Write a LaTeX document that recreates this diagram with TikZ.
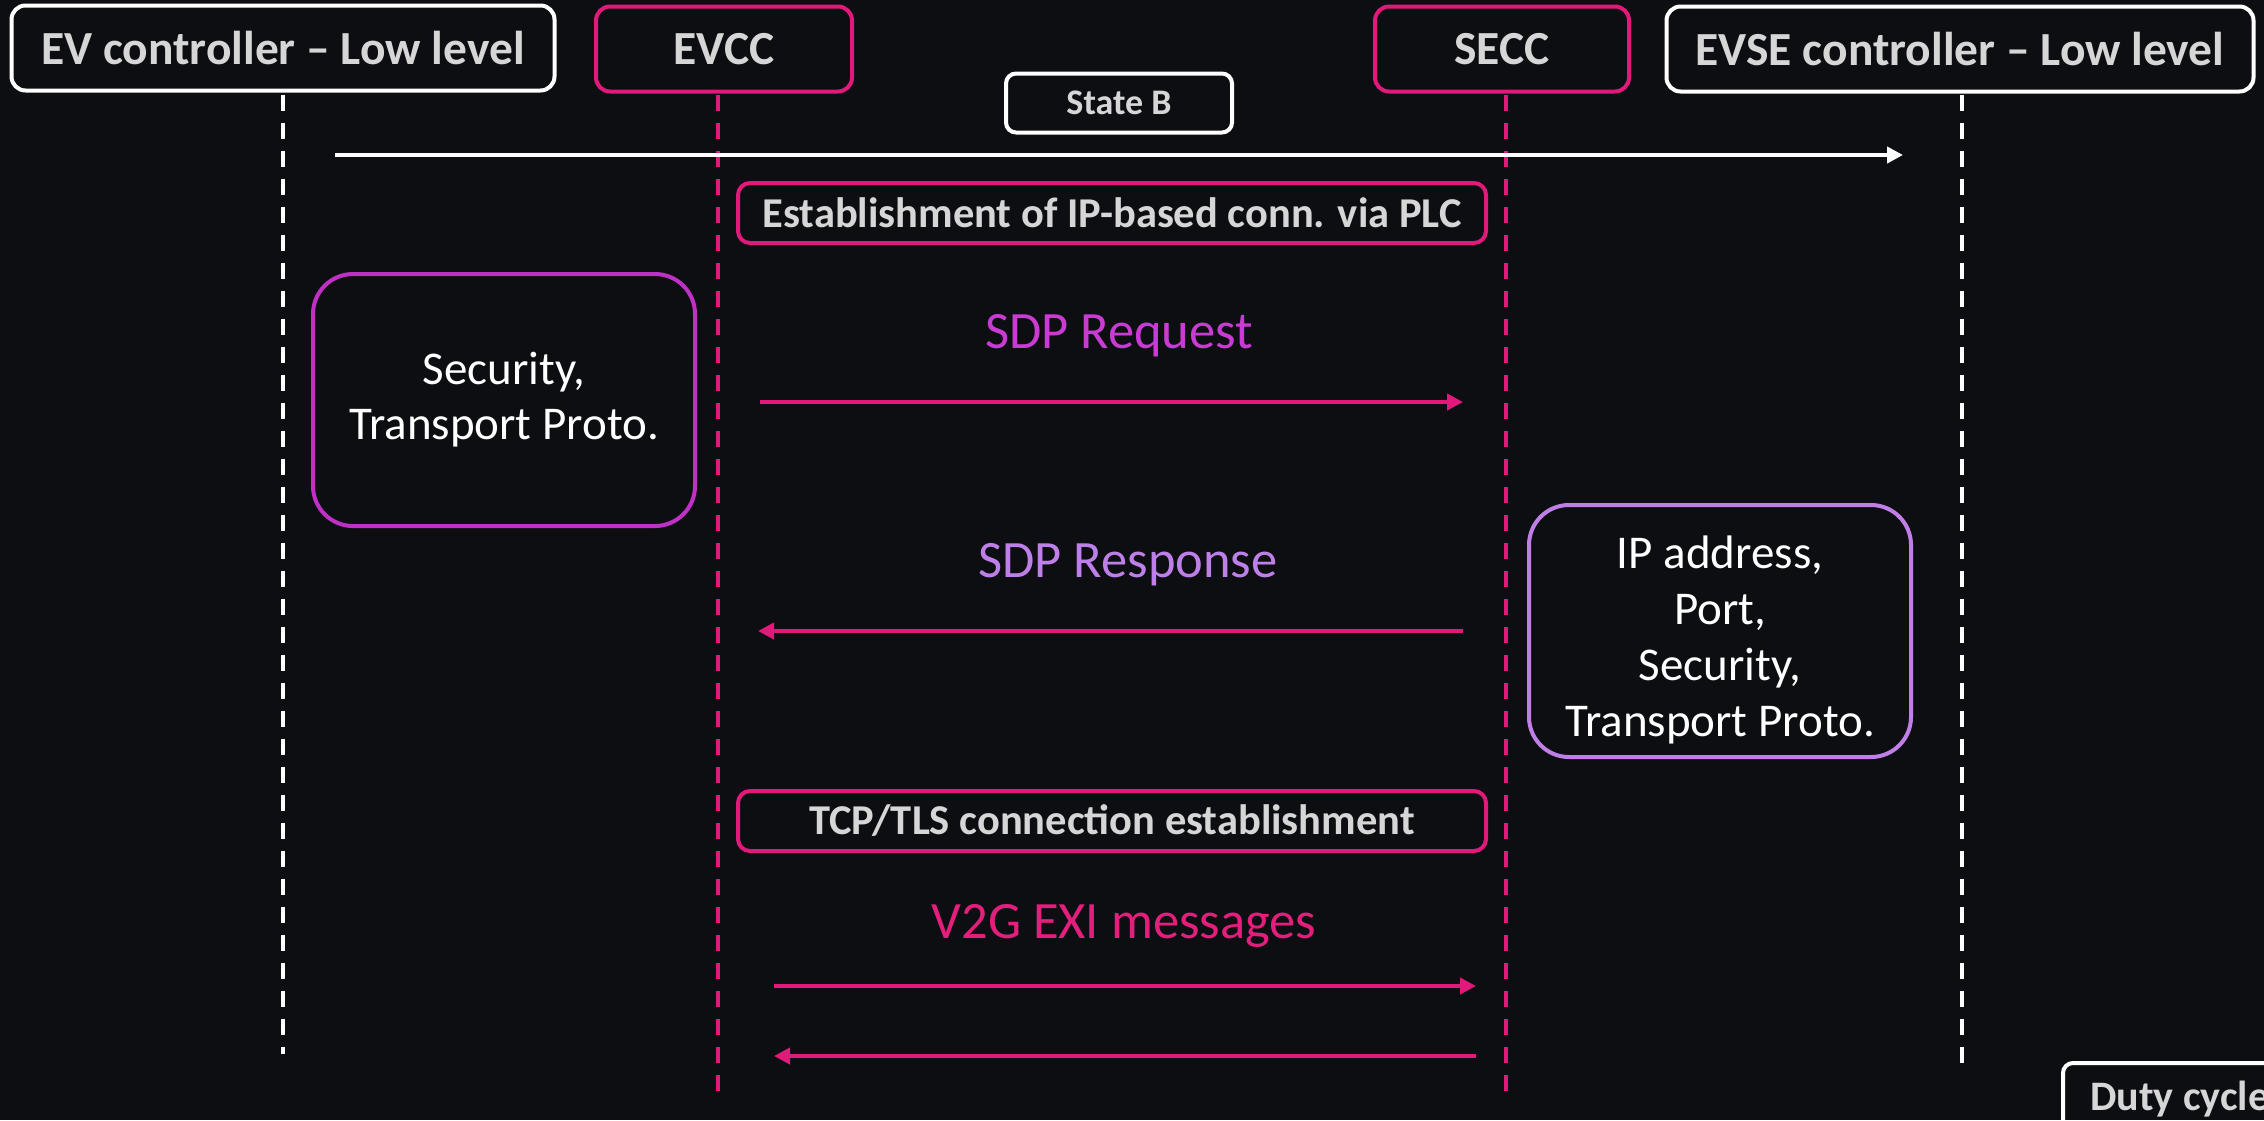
\documentclass[tikz,border=0pt]{standalone}
\usepackage{fontspec}
\setmainfont{Carlito}
\usetikzlibrary{arrows.meta}
\definecolor{bg}{HTML}{0C0E11}
\definecolor{mag}{HTML}{E0197A}
\definecolor{hdrtxt}{HTML}{D6D6D6}
\definecolor{lbox}{HTML}{C130C6}
\definecolor{rbox}{HTML}{C07FE6}
\definecolor{reqtxt}{HTML}{C93BD3}
\definecolor{restxt}{HTML}{BE80E8}
\definecolor{v2gtxt}{HTML}{E31E7C}
\tikzset{
  hdr/.style={draw=white, line width=4pt, rounded corners=14pt, fill=bg, text=hdrtxt,
    font=\fontsize{47.5}{52}\selectfont\bfseries, minimum height=85pt, inner sep=0pt},
  maghdr/.style={hdr, draw=mag},
  phase/.style={draw=mag, line width=4pt, rounded corners=12pt, text=hdrtxt,
    font=\fontsize{42.5}{46}\selectfont\bfseries, minimum width=748pt, minimum height=60pt, inner sep=0pt},
  info/.style={line width=4pt, rounded corners=40pt, text=white, align=center,
    font=\fontsize{47}{55}\selectfont, minimum width=382pt, minimum height=252pt, inner sep=0pt},
  infotext/.style={text=white, align=center, font=\fontsize{47}{56}\selectfont, inner sep=0pt},
  msg/.style={font=\fontsize{52.5}{56}\selectfont},
  lifew/.style={draw=white, line width=4pt, dash pattern=on 16pt off 12pt},
  lifem/.style={draw=mag, line width=4pt, dash pattern=on 16pt off 12pt},
  arr/.style={draw=mag, line width=4.5pt, -{Triangle[length=16pt,width=16pt]}},
}
\begin{document}
\begin{tikzpicture}[x=1pt,y=-1pt]
\useasboundingbox (0,0) rectangle (2264,1120);
\fill[bg] (0,0) rectangle (2264,1120);

% headers
\node[hdr, minimum width=543pt] (ev) at (283,48) {EV controller – Low level};
\node[maghdr, minimum width=256pt] (evcc) at (724,49) {EVCC};
\node[maghdr, minimum width=254pt] (secc) at (1502,49) {SECC};
\node[hdr, minimum width=587pt] (evse) at (1960,49) {EVSE controller – Low level};

% lifelines
\coordinate (evtop) at (283,95);   \coordinate (evbot) at (283,1054);
\coordinate (evcctop) at (718,95); \coordinate (evccbot) at (718,1095);
\coordinate (secctop) at (1506,95); \coordinate (seccbot) at (1506,1095);
\coordinate (evsetop) at (1962,95); \coordinate (evsebot) at (1962,1066);
\draw[lifew] (evtop) -- (evbot);
\draw[lifem] (evcctop) -- (evccbot);
\draw[lifem] (secctop) -- (seccbot);
\draw[lifew] (evsetop) -- (evsebot);

% State B
\node[draw=white, line width=4pt, rounded corners=10pt, fill=bg, text=hdrtxt,
  font=\fontsize{36}{40}\selectfont\bfseries, minimum width=226pt, minimum height=59pt, inner sep=0pt]
  (stateb) at (1119,103) {State B};
\coordinate (sbs) at (335,155);
\coordinate (sbe) at (1903,155);
\draw[draw=white, line width=4pt, -{Triangle[length=16pt,width=16pt]}] (sbs) -- (sbe);

% phases
\node[phase] (plc) at (1112,213) {Establishment of IP-based conn. via PLC};
\node[phase] (tcp) at (1112,821) {TCP/TLS connection establishment};

% info boxes
\node[info, draw=lbox] (lefti) at (504,400) {Security,\\Transport Proto.};
\node[info, draw=rbox] (righti) at (1720,631) {};
\node[infotext] (rightt) at (1720,640) {IP address,\\Port,\\Security,\\Transport Proto.};

% messages
\node[msg, text=reqtxt] (req) at (1119,336) {SDP Request};
\coordinate (reqs) at (760,402); \coordinate (reqe) at (1463,402);
\draw[arr] (reqs) -- (reqe);

\node[msg, text=restxt] (res) at (1128,565) {SDP Response};
\coordinate (ress) at (1463,631); \coordinate (rese) at (758,631);
\draw[arr] (ress) -- (rese);

\node[msg, text=v2gtxt] (v2g) at (1124,926) {V2G EXI messages};
\coordinate (v1s) at (774,986); \coordinate (v1e) at (1476,986);
\draw[arr] (v1s) -- (v1e);
\coordinate (v2s) at (1476,1056); \coordinate (v2e) at (774,1056);
\draw[arr] (v2s) -- (v2e);

% duty cycle (cut off at the edge, as in the reference)
\begin{scope}
\clip (0,0) rectangle (2264,1120);
\draw[white, line width=4pt, rounded corners=10pt] (2063,1160) -- (2063,1063) -- (2320,1063);
\node[anchor=base west, text=hdrtxt, font=\fontsize{42}{46}\selectfont\bfseries, inner sep=0pt]
  (duty) at (2090,1110) {Duty cycle};
\end{scope}
\end{tikzpicture}
\end{document}
